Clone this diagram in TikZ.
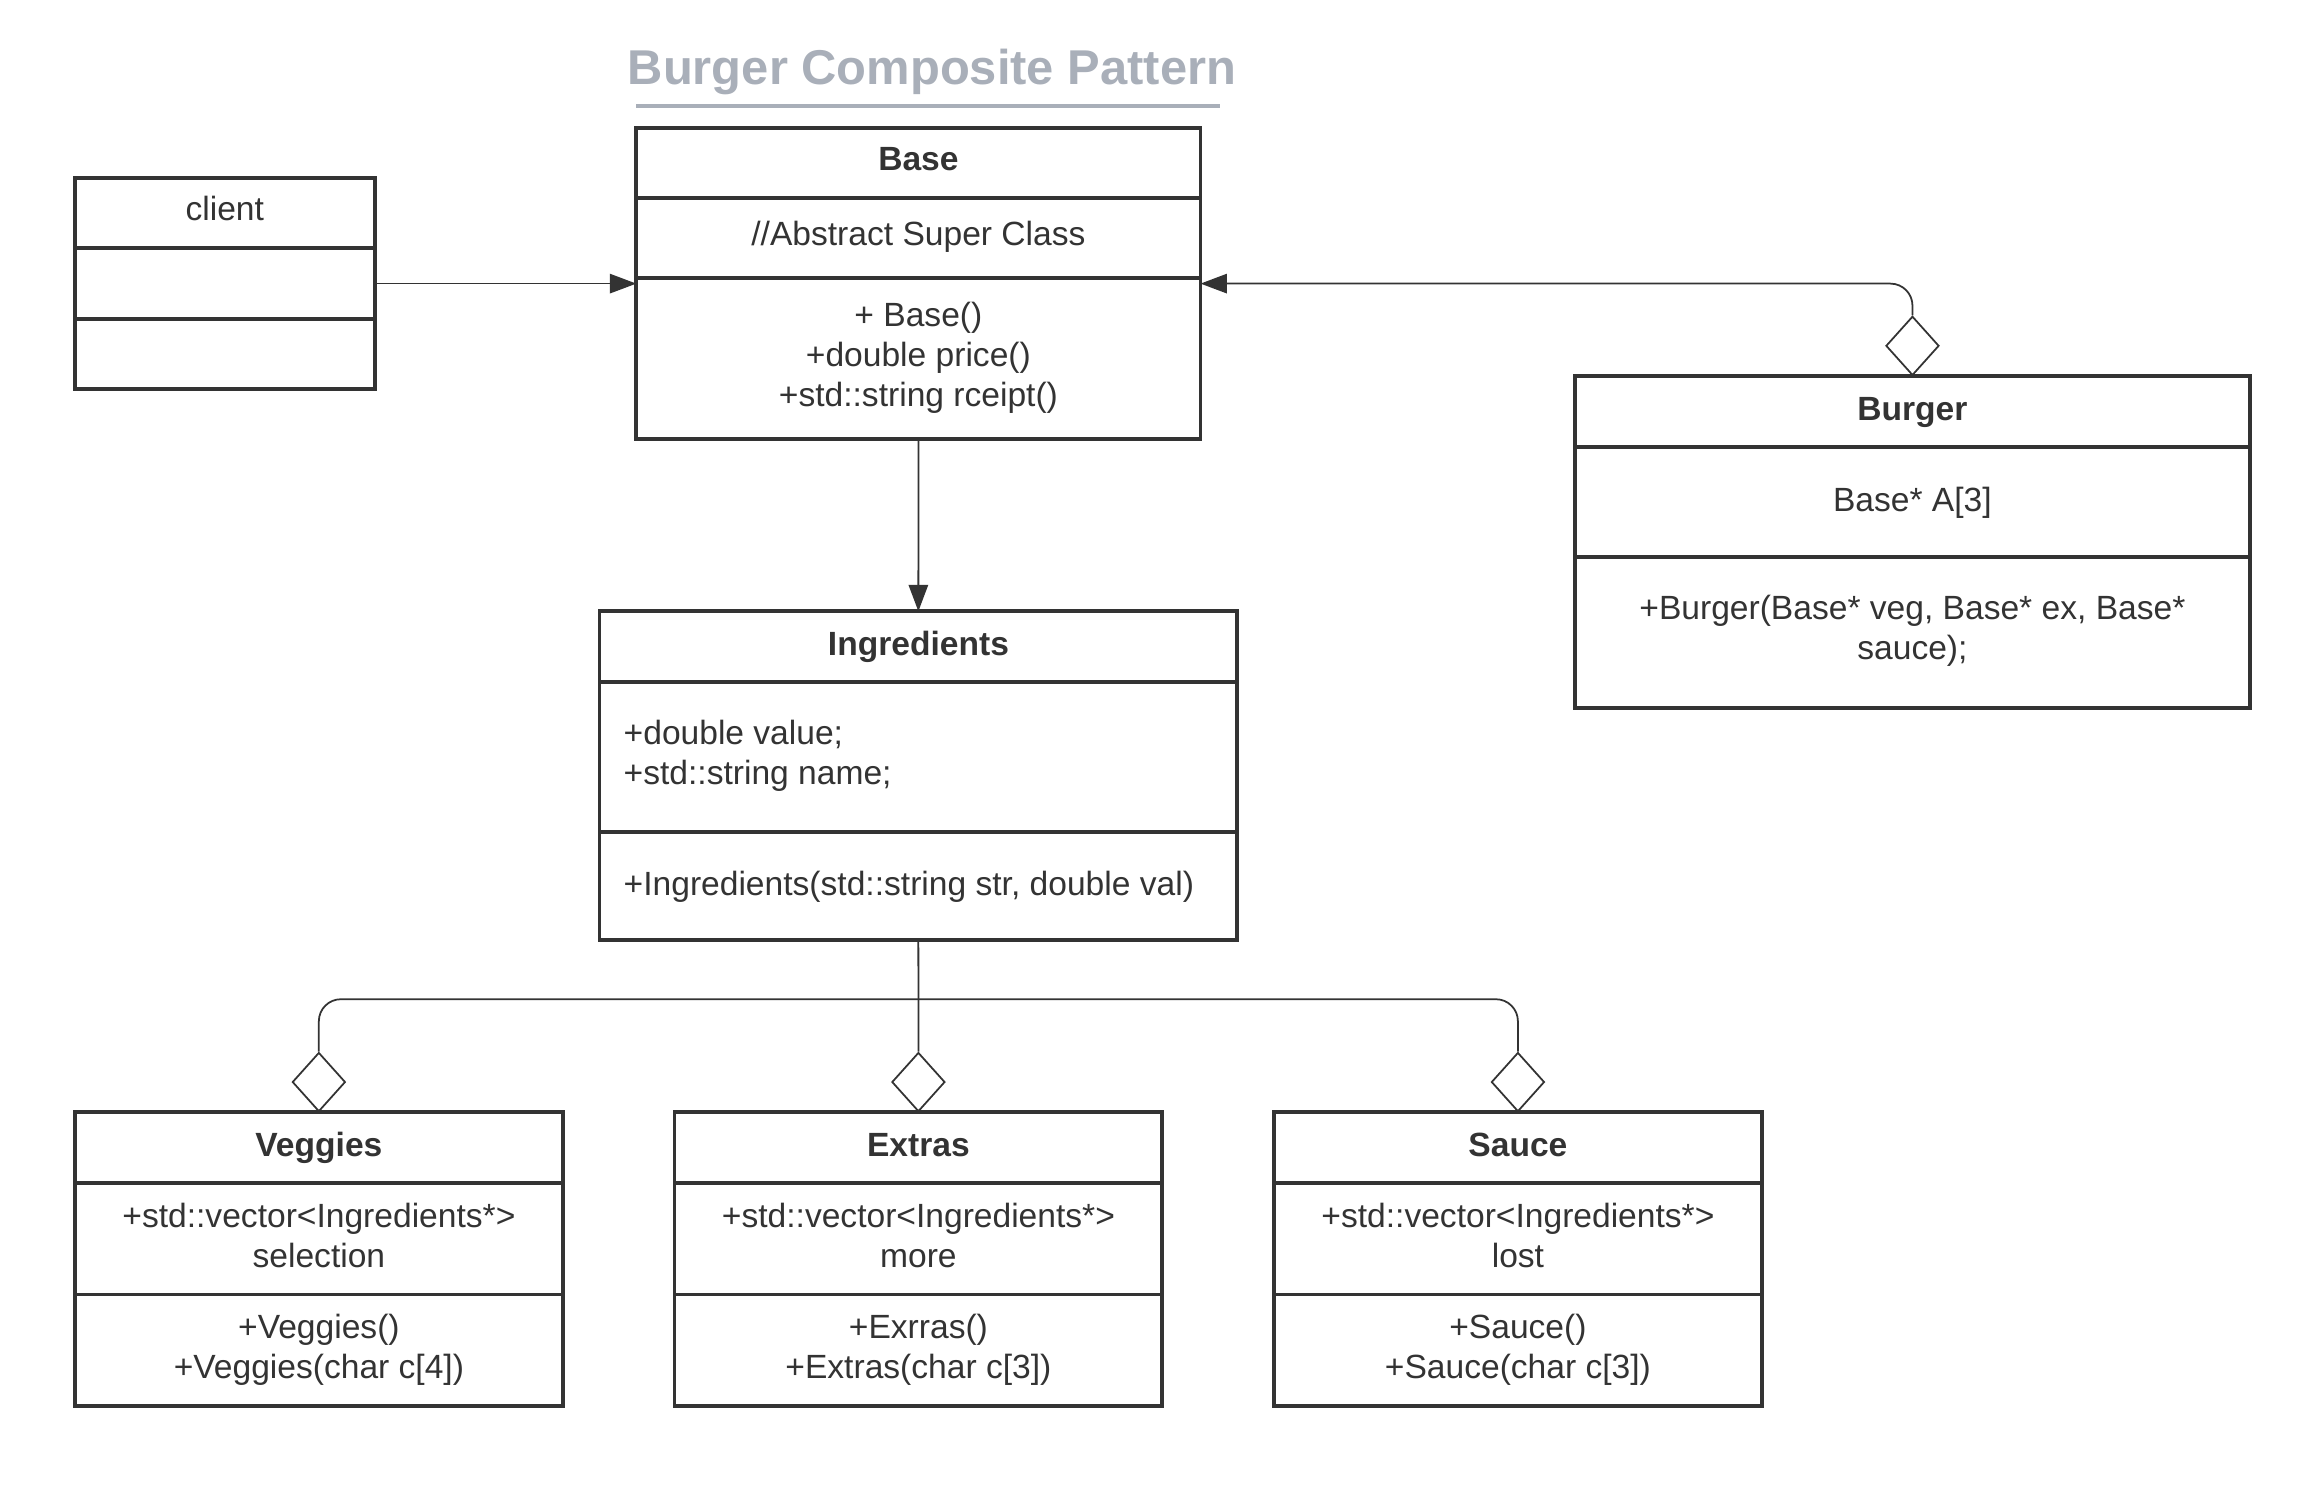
\documentclass[tikz,border=0pt]{standalone}
\usepackage{fontspec}
\setmainfont{Liberation Sans}
\usetikzlibrary{shapes.geometric,arrows.meta,fit}
\definecolor{ink}{HTML}{333333}
\definecolor{titlegray}{HTML}{A9AFB9}
\tikzset{
  classbox/.style={draw=ink, line width=1.1pt, inner sep=0pt, outer sep=0pt},
  divider/.style={draw=ink, line width=1.1pt},
  txt/.style={text=ink, inner sep=0pt, align=center, font=\fontsize{9.55}{11.4}\selectfont},
  oneline/.style={txt, text height=0.72em, text depth=0.21em},
  hdr/.style={oneline, font=\fontsize{9.55}{11.4}\selectfont\bfseries},
  conn/.style={draw=ink, line width=0.5pt},
  agg/.style={shape=diamond, draw=ink, line width=0.5pt, fill=white, inner sep=0pt, minimum width=0.53cm, minimum height=0.59cm, anchor=south},
  arr/.style={conn, -{Triangle[length=7.5pt,width=5.5pt]}}
}
\begin{document}
\begin{tikzpicture}[x=0.01cm,y=-0.01cm]
\useasboundingbox (0,0) rectangle (2304,1493);
% title
\node[text=titlegray, font=\fontsize{13.9}{16.5}\selectfont\bfseries, inner sep=0pt] (title) at (932,71.5) {Burger Composite Pattern};
\draw[titlegray, line width=1.2pt] (636,105.8) coordinate (ul1) -- (1219.6,105.8) coordinate (ul2);
% client
\node[classbox, fit={(74.9,177.8) (374.7,389.4)}] (client) {};
\draw[divider] (74.9,248.3) -- (374.7,248.3);
\draw[divider] (74.9,318.9) -- (374.7,318.9);
\node[oneline] (clientname) at (224.8,211.7) {client};
% Base
\node[classbox, fit={(636.3,127.8) (1200.5,439.4)}] (base) {};
\draw[divider] (636.3,198.4) -- (1200.5,198.4);
\draw[divider] (636.3,277.7) -- (1200.5,277.7);
\node[hdr] (basename) at (918.4,161.2) {Base};
\node[oneline] (baseattr) at (918.4,236.6) {//Abstract Super Class};
\node[txt] (baseops) at (918.4,357.4) {+ Base()\\+double price()\\+std::string rceipt()};
% Burger
\node[classbox, fit={(1575.2,376.2) (2249.7,708.3)}] (burger) {};
\draw[divider] (1575.2,446.7) -- (2249.7,446.7);
\draw[divider] (1575.2,556.9) -- (2249.7,556.9);
\node[hdr] (burgername) at (1912.4,411.5) {Burger};
\node[oneline] (burgerattr) at (1912.4,502.6) {Base* A[3]};
\node[txt] (burgerops) at (1912.4,631.2) {+Burger(Base* veg, Base* ex, Base*\\sauce);};
% Ingredients
\node[classbox, fit={(599.5,611.3) (1237.2,940.4)}] (ing) {};
\draw[divider] (599.5,681.8) -- (1237.2,681.8);
\draw[divider] (599.5,831.7) -- (1237.2,831.7);
\node[hdr] (ingname) at (918.4,646.6) {Ingredients};
\node[txt, anchor=west, align=left] (ingattr) at (623,755.4) {+double value;\\+std::string name;};
\node[oneline, anchor=west, align=left] (ingops) at (623,886.1) {+Ingredients(std::string str, double val)};
% Veggies
\node[classbox, fit={(74.9,1112.4) (562.8,1406.2)}] (veg) {};
\draw[divider] (74.9,1182.9) -- (562.8,1182.9);
\draw[divider] (74.9,1294.5) -- (562.8,1294.5);
\node[hdr] (vegname) at (318.9,1147.7) {Veggies};
\node[txt] (vegattr) at (318.9,1235.2) {+std::vector<Ingredients*>\\selection};
\node[txt] (vegops) at (318.9,1349.7) {+Veggies()\\+Veggies(char c[4])};
% Extras
\node[classbox, fit={(674.5,1112.4) (1162.3,1406.2)}] (ext) {};
\draw[divider] (674.5,1182.9) -- (1162.3,1182.9);
\draw[divider] (674.5,1294.5) -- (1162.3,1294.5);
\node[hdr] (extname) at (918.4,1147.7) {Extras};
\node[txt] (extattr) at (918.4,1235.2) {+std::vector<Ingredients*>\\more};
\node[txt] (extops) at (918.4,1349.7) {+Exrras()\\+Extras(char c[3])};
% Sauce
\node[classbox, fit={(1274,1112.4) (1761.8,1406.2)}] (sau) {};
\draw[divider] (1274,1182.9) -- (1761.8,1182.9);
\draw[divider] (1274,1294.5) -- (1761.8,1294.5);
\node[hdr] (sauname) at (1517.9,1147.7) {Sauce};
\node[txt] (sauattr) at (1517.9,1235.2) {+std::vector<Ingredients*>\\lost};
\node[txt] (sauops) at (1517.9,1349.7) {+Sauce()\\+Sauce(char c[3])};
% aggregation diamonds
\node[agg] (db) at (burger.north) {};
\node[agg] (dv) at (veg.north) {};
\node[agg] (de) at (ext.north) {};
\node[agg] (ds) at (sau.north) {};
\coordinate (bus) at (918.4,999.2);
% connectors
\draw[arr] (client.east) -- (base.west);
\draw[arr, rounded corners=2.2mm] (db.north) |- (base.east);
\draw[arr] (base.south) -- (ing.north);
\draw[conn] (de.north) -- (ing.south);
\draw[conn, rounded corners=2.2mm] (dv.north) |- (bus);
\draw[conn, rounded corners=2.2mm] (ds.north) |- (bus);
\end{tikzpicture}
\end{document}
